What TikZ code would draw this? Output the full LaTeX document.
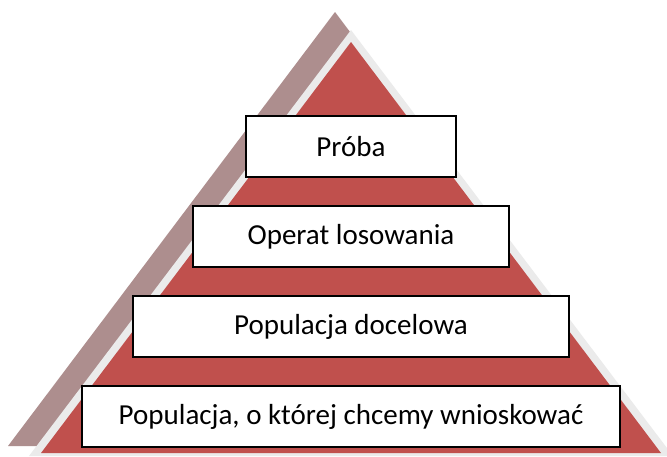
\documentclass[tikz,border=0pt]{standalone}
\usepackage{fontspec}
\setmainfont{Carlito}
\usepackage{xcolor}
\definecolor{czerwony}{HTML}{C0504D}
\definecolor{cien}{HTML}{AD8E8E}
\definecolor{obwod}{HTML}{EBEBEB}
\usetikzlibrary{matrix}
\tikzset{
    tier/.style={
    rectangle,draw=black,fill=white,line width=2pt,minimum height=61pt,inner sep=0pt,
    font=\fontsize{29}{33}\selectfont
    },
    pyramid/.style={fill=czerwony},
    halo/.style={fill=obwod},
    backshade/.style={fill=cien}
}

\begin{document}
\begin{tikzpicture}[x=1pt,y=-1pt]
    \useasboundingbox[fill=white] (0,0) rectangle (667,456);
    \clip (0,0) rectangle (667,456);

    % the pyramid with its shadow
    \path[backshade] (335,12) -- (8,446) -- (662,446) -- cycle;
    \path[halo] (351,30) -- (29,456) -- (673,456) -- cycle;
    \path[pyramid] (351,42) -- (41,453) -- (661,453) -- cycle;

    \matrix[row sep=27pt,inner sep=0pt,anchor=north] at (351,115) {
      \node[tier,minimum width=210pt] (proba) {Próba}; \\
      \node[tier,minimum width=315pt] (operat) {Operat losowania};\\
      \node[tier,minimum width=436pt] (docelowa) {Populacja docelowa};\\
      \node[tier,minimum width=537pt] (wnioski) {Populacja, o której chcemy wnioskować};\\
    };
\end{tikzpicture}
\end{document}
